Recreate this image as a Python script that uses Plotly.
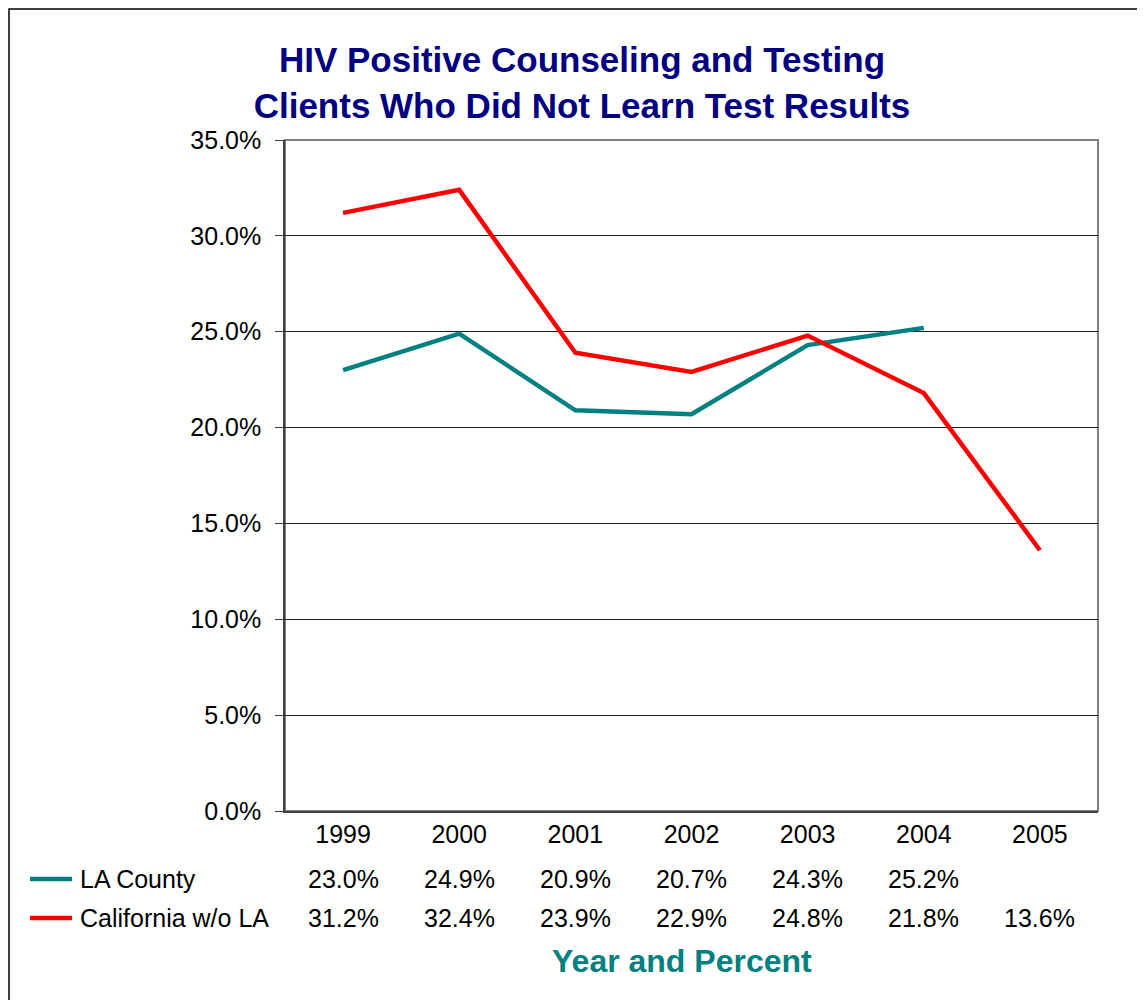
import plotly.graph_objects as go

# data
years = ["1999", "2000", "2001", "2002", "2003", "2004", "2005"]
la_county = [23.0, 24.9, 20.9, 20.7, 24.3, 25.2, None]
california = [31.2, 32.4, 23.9, 22.9, 24.8, 21.8, 13.6]
series_names = ["LA County", "California w/o LA"]
series_colors = ["#008080", "#FF0000"]
y_ticks = [0, 5, 10, 15, 20, 25, 30, 35]

# page has an 8px body margin, so work in screen pixels and shift back
OFF = 8
W, H = 1145, 1000
L, R, T, B = 285 - OFF, 1098 - OFF, 140 - OFF, 811 - OFF


def px(x):
    return (x - OFF - L) / (R - L)


def py(y):
    return (B - (y - OFF)) / (B - T)


fig = go.Figure()

for name, vals, color in zip(series_names, [la_county, california], series_colors):
    fig.add_trace(go.Scatter(
        x=years, y=vals, name=name, mode="lines",
        line=dict(color=color, width=4.5),
        connectgaps=False,
    ))

shapes = []
# outer chart border (runs off right/bottom)
shapes.append(dict(type="rect", xref="paper", yref="paper",
                   x0=px(OFF + 1), x1=px(1250), y0=py(1050), y1=py(OFF + 1),
                   line=dict(color="black", width=1.5), layer="below"))
# plot area border (gray)
shapes.append(dict(type="rect", xref="paper", yref="paper",
                   x0=0, x1=1, y0=0, y1=1,
                   line=dict(color="#808080", width=2), layer="below"))

annotations = []
# data table
rows = [la_county, california]
row_y = [879, 918]
for i, (name, vals, color) in enumerate(zip(series_names, rows, series_colors)):
    shapes.append(dict(type="line", xref="paper", yref="paper",
                       x0=px(30), x1=px(72), y0=py(row_y[i]), y1=py(row_y[i]),
                       line=dict(color=color, width=4.5)))
    annotations.append(dict(text=name, xref="paper", yref="paper",
                            x=px(78), y=py(row_y[i]), xanchor="left", yanchor="middle",
                            showarrow=False, font=dict(size=25, color="black")))
    for j, v in enumerate(vals):
        if v is None:
            continue
        annotations.append(dict(text=f"{v:.1f}%", xref="x", yref="paper",
                                x=j, y=py(row_y[i]), xanchor="center", yanchor="middle",
                                showarrow=False, font=dict(size=25, color="black")))

annotations.append(dict(text="<b>Year and Percent</b>", xref="paper", yref="paper",
                        x=px(682), y=py(961), xanchor="center", yanchor="middle",
                        showarrow=False, font=dict(size=32, color="#008080")))

fig.update_layout(
    title=dict(
        text="<b>HIV Positive Counseling and Testing<br>Clients Who Did Not Learn Test Results</b>",
        x=px(582), xref="paper", xanchor="center",
        y=1 - (72 - OFF) / H, yanchor="middle",
        font=dict(size=35, color="#000080", family="Liberation Sans, Arial"),
    ),
    xaxis=dict(
        type="category", range=[-0.5, 6.5],
        showline=True, linecolor="#404040", linewidth=1.5,
        showgrid=False, ticks="",
        tickfont=dict(size=25, color="black"),
    ),
    yaxis=dict(
        range=[0, 35], tickvals=y_ticks,
        ticktext=[f"{v:.1f}%" for v in y_ticks],
        showline=True, linecolor="#404040", linewidth=1.5,
        showgrid=True, gridcolor="#202020", gridwidth=1,
        ticks="outside", ticklen=8, tickcolor="#404040",
        ticklabelstandoff=9,
        tickfont=dict(size=25, color="black"),
        zeroline=False,
    ),
    shapes=shapes,
    annotations=annotations,
    showlegend=False,
    font=dict(family="Liberation Sans, Arial", color="black"),
    width=W, height=H,
    margin=dict(l=L, r=W - R, t=T, b=H - B, autoexpand=False),
    plot_bgcolor="white", paper_bgcolor="white",
)

fig.write_html("out.html")
